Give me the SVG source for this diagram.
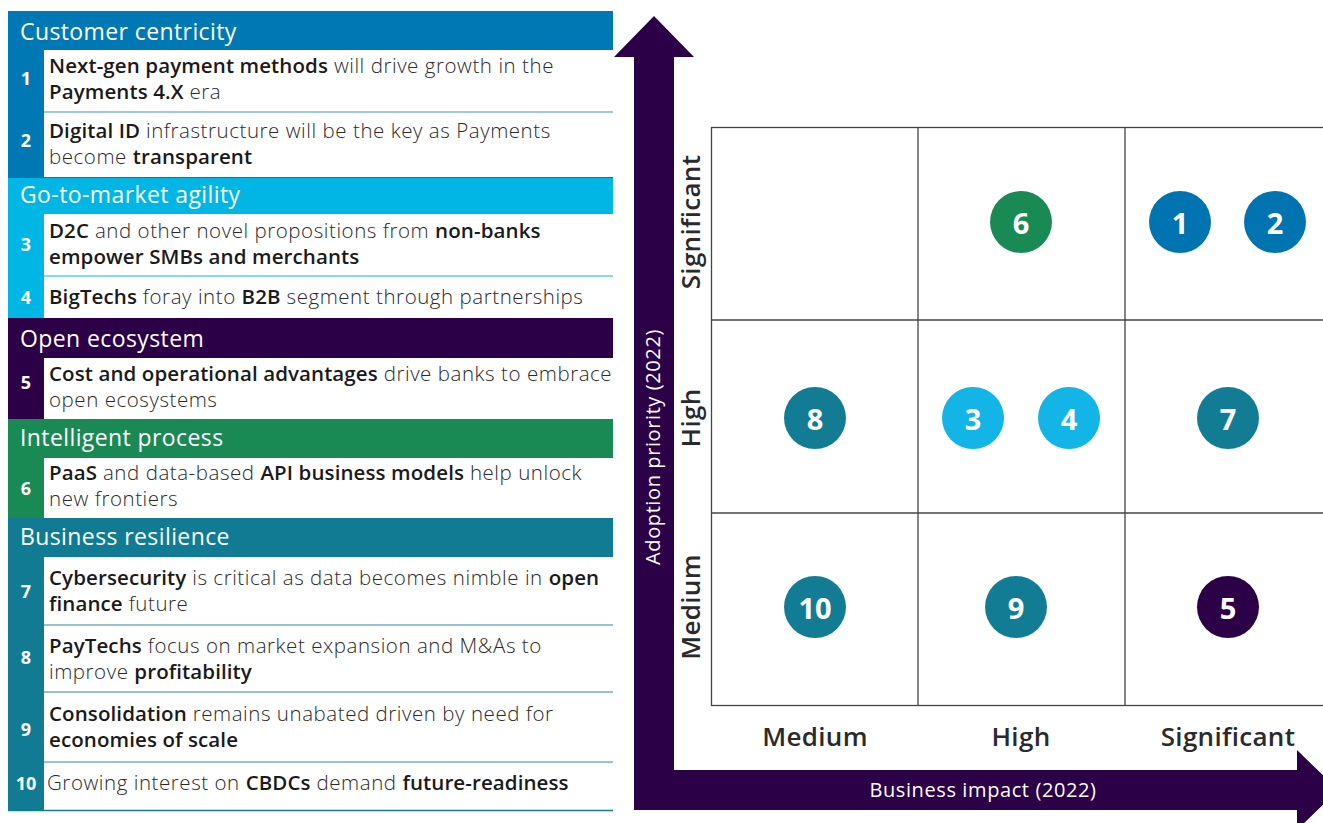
<svg xmlns="http://www.w3.org/2000/svg" width="1323" height="823" viewBox="0 0 1323 823">
<style>
.hd{font-family:"Open Sans","Noto Sans",sans-serif;font-size:23px;fill:#fff;font-weight:500;letter-spacing:0.4px}
.num{font-family:"Open Sans","Noto Sans",sans-serif;font-size:18px;fill:#fff;font-weight:700;text-anchor:middle}
.tx{font-family:"Open Sans","Noto Sans",sans-serif;font-size:20.5px;fill:#2a2a2a;font-weight:300;letter-spacing:0.55px}
.b{font-weight:600;fill:#1a1a1a;letter-spacing:0.1px}
.sep{stroke-width:1.5}
.cn{font-family:"Open Sans","Noto Sans",sans-serif;font-size:29px;fill:#fff;font-weight:700;text-anchor:middle;dominant-baseline:central}
.ax{font-family:"Open Sans","Noto Sans",sans-serif;font-size:26px;fill:#2a2a2a;font-weight:600;text-anchor:middle;letter-spacing:0.3px}
.at{font-family:"Open Sans","Noto Sans",sans-serif;font-size:20px;fill:#fff;font-weight:500;text-anchor:middle;letter-spacing:0.6px}
.grid{fill:none;stroke:#444;stroke-width:1.3}
</style>
<rect width="1323" height="823" fill="#fff"/>

<g id="sec-customer">
<rect x="8" y="11" width="605" height="167" fill="#0078b4"/>
<rect x="44" y="50" width="569" height="127" fill="#fff"/>
<line class="sep" x1="44" y1="112" x2="613" y2="112" stroke="#7fb6d6"/>
<text class="hd" x="20" y="40">Customer centricity</text>
<text class="num" x="26" y="85">1</text>
<text class="tx" x="49" y="73"><tspan class="b">Next-gen payment methods</tspan> will drive growth in the</text>
<text class="tx" x="49" y="99"><tspan class="b">Payments 4.X</tspan> era</text>
<text class="num" x="26" y="147">2</text>
<text class="tx" x="49" y="138"><tspan class="b">Digital ID</tspan> infrastructure will be the key as Payments</text>
<text class="tx" x="49" y="164">become <tspan class="b">transparent</tspan></text>
</g>

<g id="sec-gtm">
<rect x="8" y="178" width="605" height="140" fill="#00b6e4"/>
<rect x="44" y="214" width="569" height="104" fill="#fff"/>
<line class="sep" x1="44" y1="276" x2="613" y2="276" stroke="#5fcdee"/>
<text class="hd" x="20" y="203">Go-to-market agility</text>
<text class="num" x="26" y="251">3</text>
<text class="tx" x="49" y="238"><tspan class="b">D2C</tspan> and other novel propositions from <tspan class="b">non-banks</tspan></text>
<text class="tx" x="49" y="264"><tspan class="b">empower SMBs and merchants</tspan></text>
<text class="num" x="26" y="304">4</text>
<text class="tx" x="49" y="304"><tspan class="b">BigTechs</tspan> foray into <tspan class="b">B2B</tspan> segment through partnerships</text>
</g>

<g id="sec-open">
<rect x="8" y="318" width="605" height="101" fill="#2b0047"/>
<rect x="44" y="358" width="569" height="61" fill="#fff"/>
<text class="hd" x="20" y="347">Open ecosystem</text>
<text class="num" x="26" y="389">5</text>
<text class="tx" x="49" y="381"><tspan class="b">Cost and operational advantages</tspan> drive banks to embrace</text>
<text class="tx" x="49" y="407">open ecosystems</text>
</g>

<g id="sec-intelligent">
<rect x="8" y="419" width="605" height="99" fill="#1a8a54"/>
<rect x="44" y="458" width="569" height="60" fill="#fff"/>
<text class="hd" x="20" y="446">Intelligent process</text>
<text class="num" x="26" y="495">6</text>
<text class="tx" x="49" y="480"><tspan class="b">PaaS</tspan> and data-based <tspan class="b">API business models</tspan> help unlock</text>
<text class="tx" x="49" y="506">new frontiers</text>
</g>

<g id="sec-resilience">
<rect x="8" y="518" width="605" height="293" fill="#107b93"/>
<rect x="44" y="557" width="569" height="253" fill="#fff"/>
<line class="sep" x1="44" y1="625" x2="613" y2="625" stroke="#6fb0c0"/>
<line class="sep" x1="44" y1="692" x2="613" y2="692" stroke="#6fb0c0"/>
<line class="sep" x1="44" y1="762" x2="613" y2="762" stroke="#6fb0c0"/>
<line class="sep" x1="8" y1="810.5" x2="613" y2="810.5" stroke="#107b93"/>
<text class="hd" x="20" y="545">Business resilience</text>
<text class="num" x="26" y="598">7</text>
<text class="tx" x="49" y="585"><tspan class="b">Cybersecurity</tspan> is critical as data becomes nimble in <tspan class="b">open</tspan></text>
<text class="tx" x="49" y="611"><tspan class="b">finance</tspan> future</text>
<text class="num" x="26" y="664">8</text>
<text class="tx" x="49" y="653"><tspan class="b">PayTechs</tspan> focus on market expansion and M&amp;As to</text>
<text class="tx" x="49" y="679">improve <tspan class="b">profitability</tspan></text>
<text class="num" x="26" y="736">9</text>
<text class="tx" x="49" y="721"><tspan class="b">Consolidation</tspan> remains unabated driven by need for</text>
<text class="tx" x="49" y="747"><tspan class="b">economies of scale</tspan></text>
<text class="num" x="26" y="790">10</text>
<text class="tx" x="47" y="790">Growing interest on <tspan class="b">CBDCs</tspan> demand <tspan class="b">future-readiness</tspan></text>
</g>

<g id="axes">
<path d="M654 16 L694 57 L674 57 L674 770 L1297 770 L1297 750 L1338 790 L1297 830 L1297 810 L634 810 L634 57 L614 57 Z" fill="#2b0047"/>
<text class="at" transform="translate(660 447) rotate(-90)">Adoption priority (2022)</text>
<text class="at" x="983" y="797">Business impact (2022)</text>
</g>

<g id="grid">
<rect class="grid" x="711.5" y="127.5" width="630" height="578"/>
<line class="grid" x1="918" y1="127" x2="918" y2="706"/>
<line class="grid" x1="1125" y1="127" x2="1125" y2="706"/>
<line class="grid" x1="711" y1="320" x2="1341" y2="320"/>
<line class="grid" x1="711" y1="513" x2="1341" y2="513"/>
</g>

<g id="axis-labels">
<text class="ax" transform="translate(700 222) rotate(-90)">Significant</text>
<text class="ax" transform="translate(700 418) rotate(-90)">High</text>
<text class="ax" transform="translate(700 607) rotate(-90)">Medium</text>
<text class="ax" x="815" y="746">Medium</text>
<text class="ax" x="1021" y="746">High</text>
<text class="ax" x="1228" y="746">Significant</text>
</g>

<g id="n6"><circle cx="1021" cy="222" r="31" fill="#1a8a54"/><text class="cn" x="1021" y="222">6</text></g>
<g id="n1"><circle cx="1180" cy="222" r="31" fill="#0074b0"/><text class="cn" x="1180" y="222">1</text></g>
<g id="n2"><circle cx="1275" cy="222" r="31" fill="#0074b0"/><text class="cn" x="1275" y="222">2</text></g>
<g id="n8"><circle cx="815" cy="418" r="31" fill="#137c95"/><text class="cn" x="815" y="418">8</text></g>
<g id="n3"><circle cx="973" cy="418" r="31" fill="#12b5e5"/><text class="cn" x="973" y="418">3</text></g>
<g id="n4"><circle cx="1069" cy="418" r="31" fill="#12b5e5"/><text class="cn" x="1069" y="418">4</text></g>
<g id="n7"><circle cx="1228" cy="418" r="31" fill="#137c95"/><text class="cn" x="1228" y="418">7</text></g>
<g id="n10"><circle cx="815" cy="607" r="31" fill="#137c95"/><text class="cn" x="815" y="607">10</text></g>
<g id="n9"><circle cx="1016" cy="607" r="31" fill="#137c95"/><text class="cn" x="1016" y="607">9</text></g>
<g id="n5"><circle cx="1228" cy="607" r="31" fill="#2b0047"/><text class="cn" x="1228" y="607">5</text></g>
</svg>
